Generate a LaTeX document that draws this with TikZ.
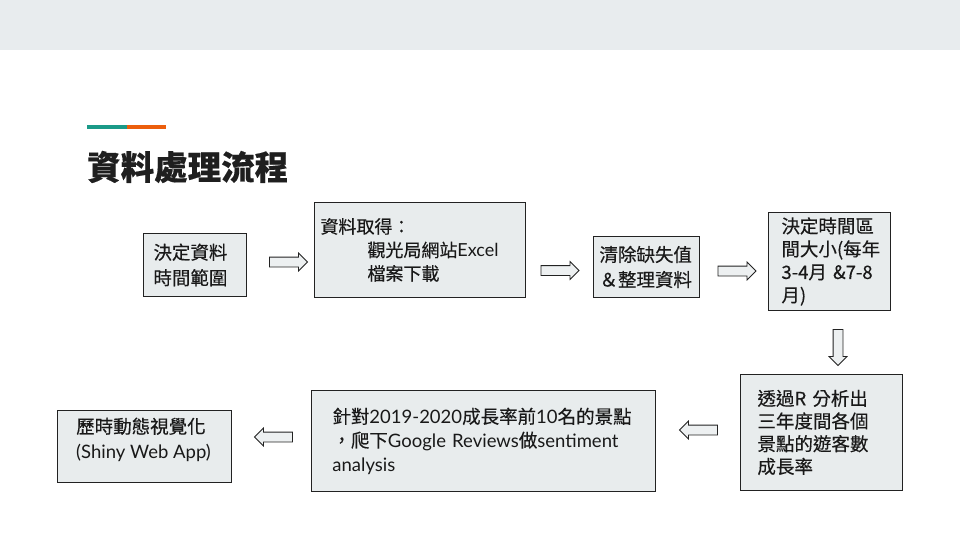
\documentclass[tikz,border=0pt]{standalone}
\usepackage{fontspec}
\setmainfont{Noto Sans CJK TC}[FakeBold=0.35]
\newfontfamily\lato{Lato}
\usetikzlibrary{shapes.arrows}
\definecolor{bandgray}{HTML}{E8ECEE}
\definecolor{boxgray}{HTML}{E8ECED}
\definecolor{arrowgray}{HTML}{EDF0F1}
\definecolor{edgegray}{HTML}{222222}
\definecolor{teal}{HTML}{1A9A88}
\definecolor{orangeline}{HTML}{EC5E0C}
\tikzset{
  box/.style={draw=edgegray, fill=boxgray, line width=0.9pt, anchor=north west,
    align=left, inner ysep=0pt, font=\fontsize{18.5}{25}\selectfont, text=black!90},
  boxtext/.style={anchor=north west, align=left, inner sep=0pt, text=black!90},
  blockarrow/.style={single arrow, draw=edgegray, fill=arrowgray, line width=0.8pt,
    inner xsep=0pt, inner ysep=4.5pt, single arrow head extend=4pt,
    single arrow tip angle=90, minimum height=38pt},
}
\begin{document}
\begin{tikzpicture}[x=1pt,y=-1pt]
\useasboundingbox (0,0) rectangle (960,540);
\fill[white] (0,0) rectangle (960,540);
\fill[bandgray] (0,0) rectangle (960,50.5);
\fill[teal] (87,125) rectangle (127,129.3);
\fill[orangeline] (127,125) rectangle (166,129.3);
\node[anchor=west, inner sep=0pt, font=\fontsize{33.5}{40}\bfseries\selectfont, text=black!88] (title) at (87,167) {資料處理流程};

% boxes
\node[box, minimum width=103pt, minimum height=63pt, inner xsep=10pt, text width=83pt, font=\fontsize{18.5}{25.5}\selectfont] (b1) at (143,233)
  {決定資料\\時間範圍};
\node[box, minimum width=211pt, minimum height=95pt, inner xsep=6pt, text width=199pt, font=\fontsize{18}{23.5}\selectfont] (b2) at (314,202)
  {資料取得：\\\hspace*{47pt}觀光局網站{\lato Excel}\\\hspace*{47pt}檔案下載};
\node[box, minimum width=106pt, minimum height=61pt, inner xsep=6pt, text width=94pt] (b3) at (593,236)
  {清除缺失值\\＆整理資料};
\node[box, minimum width=122pt, minimum height=98pt, inner xsep=13pt, text width=96pt, font=\fontsize{18.5}{23}\selectfont] (b4) at (768,212)
  {決定時間區\\間大小(每年\\3-4月 \&7-8\\月)};
\node[box, minimum width=162pt, minimum height=116pt, inner xsep=17pt, text width=128pt, font=\fontsize{18.5}{22.7}\selectfont] (b5) at (740,374)
  {透過R 分析出\\三年度間各個\\景點的遊客數\\成長率};
\node[box, minimum width=344pt, minimum height=101pt, inner xsep=21pt, text width=302pt, font=\fontsize{18.5}{23.8}\selectfont] (b6) at (311,390)
  {針對{\lato 2019-2020}成長率前{\lato 10}名的景點\\，爬下{\lato Google Reviews}做{\lato sentiment}\\{\lato analysis}};
\node[box, minimum width=174pt, minimum height=72pt] (b7) at (57,410) {};
\node[boxtext, font=\fontsize{18.5}{25}\selectfont] (t7) at ([shift={(19,7.5)}]b7.north west)
  {歷時動態視覺化\\{\lato (Shiny Web App)}};

% block arrows
\node[blockarrow] (a1) at (286,262) {};
\node[blockarrow] (a2) at (557.5,270.5) {};
\node[blockarrow] (a3) at (734.5,271) {};
\node[blockarrow, minimum height=36pt, rotate=-90] (a4) at (838,345) {};
\node[blockarrow, shape border rotate=180] (a5) at (701,430) {};
\node[blockarrow, shape border rotate=180] (a6) at (276,437) {};
\end{tikzpicture}
\end{document}
